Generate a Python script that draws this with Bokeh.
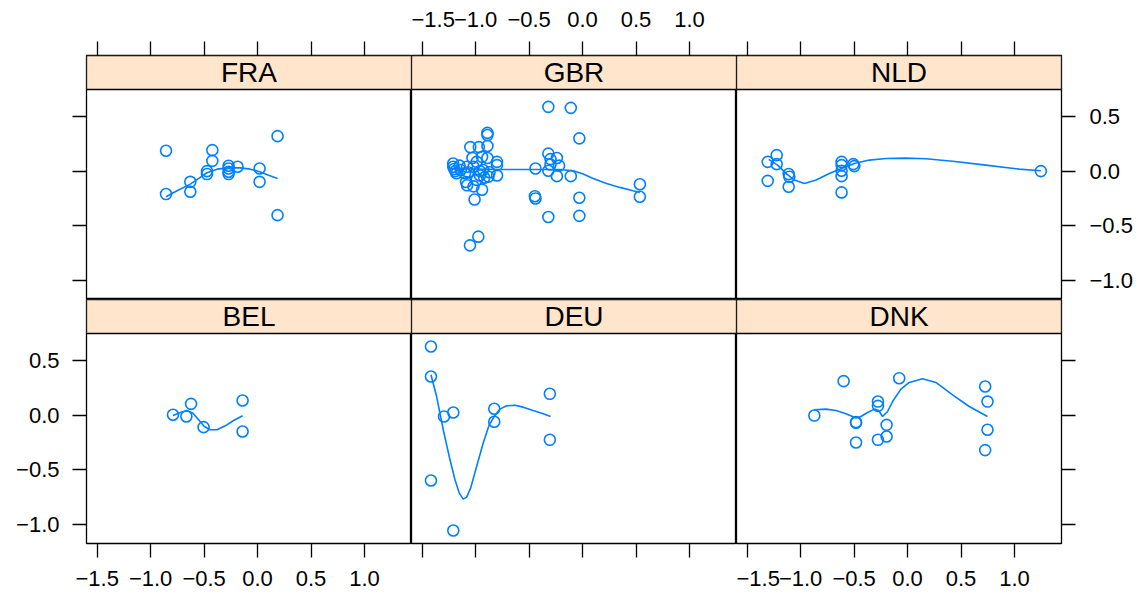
from bokeh.plotting import figure
from bokeh.layouts import gridplot
from bokeh.models import (Range1d, LinearAxis, FixedTicker, CustomJSTickFormatter,
                          BoxAnnotation, Label)
from bokeh.embed import file_html
from bokeh.resources import INLINE

# ---------------- data ----------------
panels = ["FRA", "GBR", "NLD", "BEL", "DEU", "DNK"]

FRA_x = [-0.856, -0.856, -0.629, -0.629, -0.473, -0.473, -0.423, -0.423, -0.271, -0.271,
         -0.271, -0.271, -0.187, 0.019, 0.019, 0.187, 0.187]
FRA_y = [0.186, -0.21, -0.098, -0.189, 0.0, -0.027, 0.192, 0.094, 0.049, 0.024,
         -0.006, -0.027, 0.04, 0.024, -0.098, 0.32, -0.403]
FRA_sx = [-0.856, -0.753, -0.629, -0.536, -0.473, -0.379, -0.271, -0.162, -0.068, 0.019, 0.103, 0.187]
FRA_sy = [-0.235, -0.18, -0.119, -0.058, -0.015, 0.018, 0.03, 0.03, 0.018, -0.006, -0.037, -0.067]

GBR_x = [-1.21, -1.21, -1.20, -1.19, -1.18, -1.15, -1.14, -1.10, -1.09, -1.08, -1.08, -1.07,
         -1.05, -1.03, -1.02, -1.02, -1.01, -0.99, -0.99, -0.97, -0.96, -0.96, -0.94, -0.94,
         -0.93, -0.92, -0.89, -0.89, -0.89, -0.89, -0.88, -0.87, -0.80, -0.80, -0.80,
         -0.975, -1.053, -0.44, -0.446, -0.44, -0.32, -0.32, -0.30, -0.24, -0.22, -0.32,
         -0.24, -0.32, -0.11, -0.03, -0.11, -0.03, -0.03, 0.536, 0.536, -0.30]
GBR_y = [0.07, 0.04, 0.02, 0.0, -0.02, 0.05, 0.01, -0.02, -0.10, -0.13, 0.04, -0.01,
         0.22, 0.12, 0.04, -0.14, -0.26, 0.085, -0.08, 0.22, -0.04, 0.0, 0.13, -0.17,
         0.01, -0.06, 0.35, 0.33, 0.23, 0.12, -0.05, -0.01, 0.085, 0.055, -0.04,
         -0.60, -0.68, 0.024, -0.23, -0.25, 0.588, 0.16, 0.11, 0.12, 0.05, 0.003,
         -0.046, -0.42, 0.579, 0.30, -0.046, -0.244, -0.41, -0.12, -0.235, 0.06]
GBR_sx = [-1.209, -0.773, -0.462, -0.212, -0.088, 0.006, 0.099, 0.224, 0.349, 0.473, 0.536]
GBR_sy = [0.024, 0.015, 0.015, 0.015, 0.003, -0.027, -0.067, -0.113, -0.149, -0.18, -0.195]

NLD_x = [-1.308, -1.308, -1.224, -1.224, -1.112, -1.106, -1.112, -0.617, -0.617, -0.617,
         -0.617, -0.617, -0.507, -0.498, 1.247]
NLD_y = [0.085, -0.089, 0.146, 0.064, -0.027, -0.052, -0.143, 0.085, 0.055, 0.003,
         -0.046, -0.195, 0.064, 0.046, 0.0]
NLD_sx = [-1.299, -1.215, -1.137, -1.059, -0.965, -0.856, -0.732, -0.617, -0.498, -0.358,
          -0.202, -0.015, 0.172, 0.421, 0.733, 1.044, 1.247]
NLD_sy = [0.107, 0.055, -0.021, -0.082, -0.113, -0.082, -0.021, 0.024, 0.07, 0.101,
          0.116, 0.119, 0.113, 0.091, 0.055, 0.018, 0.003]

BEL_x = [-0.791, -0.666, -0.622, -0.505, -0.14, -0.14]
BEL_y = [0.003, -0.012, 0.103, -0.11, 0.134, -0.15]
BEL_sx = [-0.791, -0.722, -0.660, -0.604, -0.551, -0.498, -0.442, -0.379, -0.302, -0.224, -0.140]
BEL_sy = [-0.004, 0.024, 0.042, 0.018, -0.043, -0.104, -0.134, -0.134, -0.098, -0.049, -0.006]

DEU_x = [-1.418, -1.418, -1.418, -1.296, -1.209, -1.209, -0.826, -0.826, -0.306, -0.306]
DEU_y = [0.628, 0.353, -0.598, -0.013, 0.024, -1.056, 0.058, -0.061, 0.195, -0.226]
DEU_sx = [-1.418, -1.365, -1.303, -1.240, -1.193, -1.153, -1.116, -1.084, -1.047, -0.991,
          -0.929, -0.873, -0.826, -0.773, -0.710, -0.633, -0.555, -0.462, -0.368, -0.299]
DEU_sy = [0.369, 0.170, -0.134, -0.409, -0.592, -0.714, -0.769, -0.750, -0.668, -0.47,
          -0.256, -0.089, -0.013, 0.055, 0.085, 0.091, 0.073, 0.042, 0.012, -0.013]

DNK_x = [-0.872, -0.598, -0.482, -0.482, -0.482, -0.277, -0.277, -0.277, -0.196, -0.196,
         -0.078, 0.726, 0.748, 0.748, 0.726]
DNK_y = [-0.004, 0.311, -0.064, -0.07, -0.251, 0.124, 0.085, -0.226, -0.089, -0.196,
         0.338, 0.262, 0.124, -0.134, -0.32]
DNK_sx = [-0.872, -0.763, -0.669, -0.576, -0.482, -0.436, -0.374, -0.311, -0.271, -0.234,
          -0.187, -0.140, -0.062, 0.016, 0.140, 0.265, 0.421, 0.577, 0.748]
DNK_sy = [0.049, 0.055, 0.042, 0.012, -0.027, -0.013, 0.024, 0.055, 0.042, -0.013,
          0.033, 0.124, 0.238, 0.299, 0.332, 0.299, 0.186, 0.079, -0.013]

data = {
    "FRA": (FRA_x, FRA_y, FRA_sx, FRA_sy),
    "GBR": (GBR_x, GBR_y, GBR_sx, GBR_sy),
    "NLD": (NLD_x, NLD_y, NLD_sx, NLD_sy),
    "BEL": (BEL_x, BEL_y, BEL_sx, BEL_sy),
    "DEU": (DEU_x, DEU_y, DEU_sx, DEU_sy),
    "DNK": (DNK_x, DNK_y, DNK_sx, DNK_sy),
}

x_ticks = [-1.5, -1.0, -0.5, 0.0, 0.5, 1.0]
y_ticks = [-1.0, -0.5, 0.0, 0.5]

# ---------------- styling / layout ----------------
X_LO, X_HI = -1.6, 1.44
Y_LO, Y_PANEL_TOP = -1.175, 0.747
STRIP_PX = 34
PANEL_PX = 210
FRAME_W = 325
PX_PER_Y = PANEL_PX / (Y_PANEL_TOP - Y_LO)
Y_HI = Y_PANEL_TOP + STRIP_PX / PX_PER_Y
FONT = "Liberation Sans"
BLUE = "#0080ff"
STRIP = "#ffe5cc"
LW = 1.3

fmt_code = "return (tick < 0 ? '\u2212' : '') + Math.abs(tick).toFixed(1);"

L_B, R_B, T_B, B_B = 86, 78, 55, 50


def make_axis(kind, show_labels, standoff, align=None):
    ax = LinearAxis(ticker=FixedTicker(ticks=x_ticks if kind == "x" else y_ticks, minor_ticks=[]),
                    formatter=CustomJSTickFormatter(code=fmt_code))
    ax.axis_line_color = None
    ax.major_tick_line_color = "black"
    ax.major_tick_line_width = LW
    ax.major_tick_out = 14
    ax.major_tick_in = 0
    ax.minor_tick_line_color = None
    ax.major_label_text_font = FONT
    ax.major_label_text_font_size = "22px"
    ax.major_label_text_color = "black" if show_labels else None
    ax.major_label_standoff = standoff
    if align:
        ax.major_label_text_align = align
    return ax


def make_panel(name, row, col):
    mb = dict(min_border_left=L_B if col == 0 else 0,
              min_border_right=R_B if col == 2 else 0,
              min_border_top=T_B if row == 0 else 0,
              min_border_bottom=B_B if row == 1 else 0)
    w = FRAME_W + mb["min_border_left"] + mb["min_border_right"]
    h = STRIP_PX + PANEL_PX + mb["min_border_top"] + mb["min_border_bottom"]
    p = figure(width=w, height=h, output_backend="svg", toolbar_location=None,
               x_axis_type=None, y_axis_type=None, title=None,
               x_range=Range1d(X_LO, X_HI), y_range=Range1d(Y_LO, Y_HI), **mb)
    p.grid.visible = False
    p.outline_line_color = "black"
    p.outline_line_width = LW
    p.background_fill_color = "white"
    p.border_fill_color = "white"

    # axes in lattice's alternating pattern
    if row == 0:
        p.add_layout(make_axis("x", col == 1, 15), "above")
        if col == 0:
            p.add_layout(make_axis("y", False, 13), "left")
        if col == 2:
            p.add_layout(make_axis("y", True, 14, "left"), "right")
    else:
        p.add_layout(make_axis("x", col != 1, 13), "below")
        if col == 0:
            p.add_layout(make_axis("y", True, 13), "left")
        if col == 2:
            p.add_layout(make_axis("y", False, 14, "left"), "right")

    # strip
    p.add_layout(BoxAnnotation(bottom=Y_PANEL_TOP, fill_color=STRIP, fill_alpha=1.0,
                               line_color="black", line_alpha=1.0, line_width=LW,
                               level="underlay"))
    p.add_layout(Label(x=(X_LO + X_HI) / 2, y=Y_PANEL_TOP + (STRIP_PX / 2) / PX_PER_Y,
                       text=name, text_align="center", text_baseline="middle",
                       text_font=FONT, text_font_size="28px", text_color="black"))

    x, y, sx, sy = data[name]
    p.line(sx, sy, line_color=BLUE, line_width=1.6)
    p.scatter(x, y, marker="circle", size=11, fill_color=None,
              line_color=BLUE, line_width=1.6)
    return p


figs = [[make_panel(panels[r * 3 + c], r, c) for c in range(3)] for r in range(2)]
grid = gridplot(figs, toolbar_location=None)

open("out.html", "w").write(file_html(grid, INLINE))
